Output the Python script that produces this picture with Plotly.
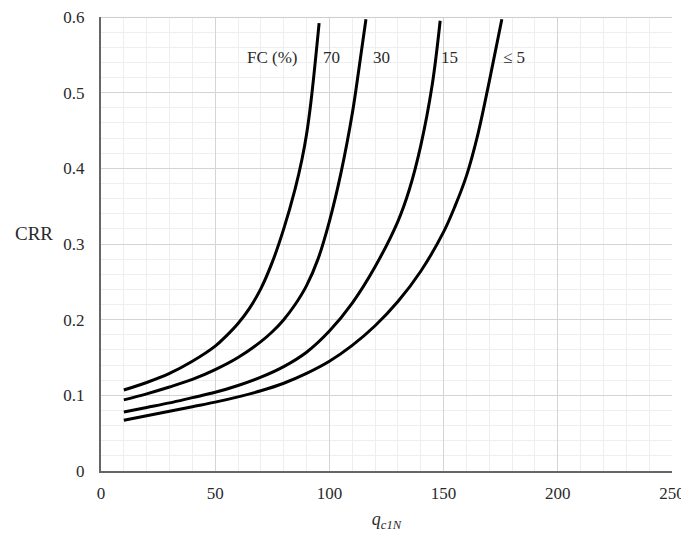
import plotly.graph_objects as go

# FC = 70 %
x70 = [10, 20, 30, 40, 50, 55, 60, 65, 70, 75, 80, 85, 88, 90, 92, 95.5]
y70 = [0.107, 0.117, 0.129, 0.145, 0.165, 0.179, 0.195, 0.215, 0.241, 0.276, 0.32, 0.373, 0.412, 0.445, 0.49, 0.592]
# FC = 30 %
x30 = [10, 20, 30, 40, 50, 60, 70, 75, 80, 85, 90, 95, 100, 105, 110, 113, 116]
y30 = [0.094, 0.102, 0.111, 0.121, 0.134, 0.150, 0.171, 0.184, 0.200, 0.220, 0.245, 0.28, 0.33, 0.393, 0.472, 0.533, 0.597]
# FC = 15 %
x15 = [10, 20, 30, 40, 50, 60, 70, 80, 90, 100, 110, 120, 130, 135, 140, 145, 148.5]
y15 = [0.078, 0.084, 0.09, 0.097, 0.104, 0.113, 0.124, 0.138, 0.157, 0.185, 0.222, 0.27, 0.33, 0.372, 0.43, 0.51, 0.595]
# FC <= 5 %
x5 = [10, 20, 30, 40, 50, 60, 70, 80, 90, 100, 110, 120, 130, 140, 150, 155, 160, 165, 170, 175.5]
y5 = [0.067, 0.073, 0.079, 0.085, 0.091, 0.098, 0.106, 0.116, 0.129, 0.145, 0.166, 0.192, 0.224, 0.264, 0.316, 0.35, 0.39, 0.445, 0.515, 0.597]

labels = ["FC (%)", "70", "30", "15", "≤ 5"]
label_x = [87, 101, 122.6, 152.4, 180.8]
label_y = [0.547, 0.547, 0.547, 0.547, 0.547]

x_ticks = [0, 50, 100, 150, 200, 250]
y_ticks = [0, 0.1, 0.2, 0.3, 0.4, 0.5, 0.6]

FONT = "Liberation Serif"
TXT = "#2a2a2a"

fig = go.Figure()
for xs, ys in [(x70, y70), (x30, y30), (x15, y15), (x5, y5)]:
    fig.add_trace(go.Scatter(x=xs, y=ys, mode="lines",
                             line=dict(color="black", width=3, shape="spline", smoothing=1.0),
                             showlegend=False, hoverinfo="skip"))

for i, (t, lx, ly) in enumerate(zip(labels, label_x, label_y)):
    fig.add_annotation(x=lx, y=ly, text=t, showarrow=False,
                       xanchor="right" if i == 0 else "center", yanchor="middle",
                       font=dict(family=FONT, size=17, color=TXT))

fig.add_annotation(xref="paper", yref="y", x=-0.08, y=0.314, text="CRR", showarrow=False,
                   xanchor="right", yanchor="middle",
                   font=dict(family=FONT, size=19, color=TXT))

fig.update_xaxes(range=[0, 250], tickvals=x_ticks, ticktext=[str(v) for v in x_ticks],
                 showgrid=True, gridcolor="#d4d4d4", gridwidth=1,
                 minor=dict(dtick=10, showgrid=True, gridcolor="#eeeeee", gridwidth=1),
                 showline=True, linecolor="#666666", linewidth=2, zeroline=False,
                 ticks="", ticklabelstandoff=6, automargin=False, ticklabeloverflow="allow",
                 tickfont=dict(family=FONT, size=17, color=TXT),
                 title=dict(text="<i>q</i><sub><i>c1N</i></sub>", standoff=10,
                            font=dict(family=FONT, size=18, color=TXT)))
fig.update_yaxes(range=[0, 0.6], tickvals=y_ticks, ticktext=["0", "0.1", "0.2", "0.3", "0.4", "0.5", "0.6"],
                 showgrid=True, gridcolor="#d4d4d4", gridwidth=1,
                 minor=dict(dtick=0.02, showgrid=True, gridcolor="#eeeeee", gridwidth=1),
                 showline=True, linecolor="#666666", linewidth=2, zeroline=False,
                 ticks="", ticklabelstandoff=11, automargin=False, ticklabeloverflow="allow",
                 tickfont=dict(family=FONT, size=17, color=TXT))

# light frame line along the top of the grid
fig.add_shape(type="line", xref="paper", yref="paper", x0=0, x1=1, y0=0.999, y1=0.999,
              line=dict(color="#cccccc", width=1), layer="above")

# page body has an 8px default margin; size/margins compensate so the plot area
# lands where it does in the reference
fig.update_layout(width=681, height=526, margin=dict(l=93, r=17, t=9, b=63),
                  plot_bgcolor="white", paper_bgcolor="white")

fig.write_html("out.html")
